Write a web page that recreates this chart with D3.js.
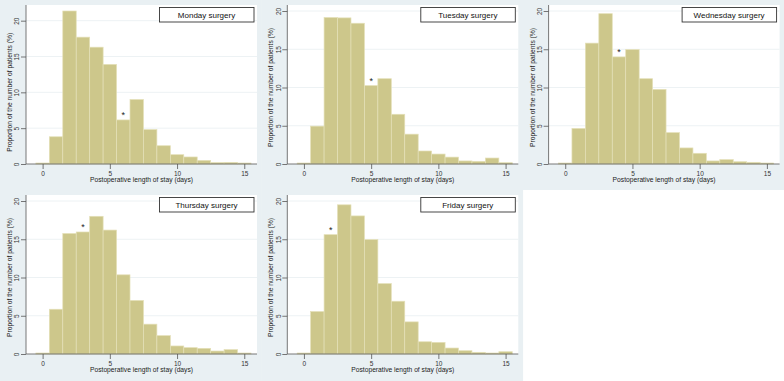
<!DOCTYPE html>
<html>
<head>
<meta charset="utf-8">
<script src="https://cdn.jsdelivr.net/npm/d3@7"></script>
<style>
  body { margin: 0; background: #fff; }
  svg { display: block; font-family: "Liberation Sans", Arial, sans-serif; }
</style>
</head>
<body>
<div id="chart"></div>
<script>
// length of stay bins (days)
const days = [0, 1, 2, 3, 4, 5, 6, 7, 8, 9, 10, 11, 12, 13, 14, 15]

// % of patients per bin
const monday    = [0, 3.8, 21.35, 17.7, 16.3, 13.9, 6.15, 9.0, 4.8, 2.55, 1.3, 0.98, 0.5, 0.2, 0.23, 0.14]
const tuesday   = [0, 4.95, 19.15, 19.1, 18.4, 10.25, 11.15, 6.5, 3.9, 1.7, 1.3, 0.9, 0.4, 0.35, 0.78, 0.17]
const wednesday = [0, 4.65, 15.8, 19.65, 14.0, 14.95, 11.15, 9.75, 4.1, 2.1, 1.4, 0.4, 0.57, 0.3, 0.22, 0.13]
const thursday  = [0, 5.85, 15.75, 15.95, 18.0, 16.2, 10.35, 7.0, 3.9, 2.4, 1.05, 0.83, 0.74, 0.39, 0.57, 0.13]
const friday    = [0, 5.55, 15.6, 19.5, 18.05, 14.95, 9.2, 6.9, 4.2, 1.6, 1.52, 0.78, 0.43, 0.22, 0.13, 0.3]

const titles = ["Monday surgery", "Tuesday surgery", "Wednesday surgery", "Thursday surgery", "Friday surgery"]
const series = [monday, tuesday, wednesday, thursday, friday]
const starDay = [6, 5, 4, 3, 2]   // bin flagged with *

const yTicks = [0, 5, 10, 15, 20]
const xTicks = [0, 5, 10, 15]

const W = 784, H = 381
const panelW = 261.3, panelH = 190

const svg = d3.select("#chart").append("svg")
	.attr("width", W)
	.attr("height", H)

svg.append("rect").attr("width", W).attr("height", H).attr("fill", "#fff")

// plot region inside each panel
const plot = { left: 26, right: 257, top: 5, bottom: 164 }

series.forEach((vals, i) => {
	const col = i % 3, row = Math.floor(i / 3)
	const g = svg.append("g")
		.attr("transform", `translate(${col * panelW},${row * panelH})`)

	g.append("rect")
		.attr("width", panelW + 0.5)
		.attr("height", row === 0 ? panelH : H - panelH)
		.attr("fill", "#e9f0f3")

	g.append("rect")
		.attr("x", plot.left)
		.attr("y", plot.top)
		.attr("width", plot.right - plot.left)
		.attr("height", plot.bottom - plot.top)
		.attr("fill", "#fff")

	const yMax = Math.max(20, d3.max(vals))
	const y = d3.scaleLinear().domain([0, yMax]).range([plot.bottom, 11])
	const x = d3.scaleLinear().domain([-0.5, 15.5]).range([35.9, 251])

	// grid
	g.append("g").selectAll("line")
		.data(yTicks.filter(d => d > 0))
		.join("line")
		.attr("x1", plot.left).attr("x2", plot.right)
		.attr("y1", d => y(d)).attr("y2", d => y(d))
		.attr("stroke", "#edf2f4")
		.attr("stroke-width", 1)

	// bars
	g.append("g").selectAll("rect")
		.data(days.map((d, j) => ({ day: d, v: vals[j] })))
		.join("rect")
		.attr("x", d => x(d.day - 0.5))
		.attr("width", d => x(d.day + 0.5) - x(d.day - 0.5))
		.attr("y", d => Math.min(y(d.v), plot.bottom - 1))
		.attr("height", d => Math.max(plot.bottom - y(d.v), 1))
		.attr("fill", "#cdc78b")
		.attr("stroke", "#e4e0b8")
		.attr("stroke-width", 0.7)

	// axes
	const yAxis = d3.axisLeft(y).tickValues(yTicks).tickSize(5).tickPadding(2)
	const ya = g.append("g").attr("transform", `translate(${plot.left},0)`).call(yAxis)
	ya.select(".domain").attr("d", `M0,${plot.top}V${plot.bottom}`)
	ya.selectAll("text")
		.attr("transform", "translate(-9,0) rotate(-90)")
		.attr("x", 0).attr("y", 0).attr("dy", "0.35em")
		.attr("text-anchor", "middle")

	const xAxis = d3.axisBottom(x).tickValues(xTicks).tickSize(5).tickPadding(2)
	const xa = g.append("g").attr("transform", `translate(0,${plot.bottom})`).call(xAxis)
	xa.select(".domain").attr("d", `M${plot.left},0H${plot.right}`)

	g.selectAll(".domain, .tick line").attr("stroke", "#555").attr("stroke-width", 0.8)
	g.selectAll(".tick text").attr("fill", "#333").attr("font-size", 6.5)
		.attr("font-family", "Liberation Sans, Arial, sans-serif")

	// axis titles
	g.append("text")
		.attr("x", (plot.left + plot.right) / 2)
		.attr("y", 182)
		.attr("text-anchor", "middle")
		.attr("font-size", 6.7)
		.attr("fill", "#222")
		.text("Postoperative length of stay (days)")

	g.append("text")
		.attr("transform", `translate(12,${(y(0) + y(20)) / 2}) rotate(-90)`)
		.attr("text-anchor", "middle")
		.attr("font-size", 6.7)
		.attr("fill", "#222")
		.text("Proportion of the number of patients (%)")

	// star
	const sd = starDay[i]
	g.append("text")
		.attr("x", x(sd))
		.attr("y", y(vals[sd]) - 2)
		.attr("dy", "0.7em")
		.attr("text-anchor", "middle")
		.attr("font-size", 9)
		.attr("fill", "#222")
		.attr("transform", `translate(0,-6)`)
		.text("*")

	// legend box
	g.append("rect")
		.attr("x", 159.5).attr("y", 7.5)
		.attr("width", 94.5).attr("height", 14.5)
		.attr("fill", "#fff")
		.attr("stroke", "#333")
		.attr("stroke-width", 0.9)
	g.append("text")
		.attr("x", 206.5).attr("y", 15)
		.attr("dy", "0.35em")
		.attr("text-anchor", "middle")
		.attr("font-size", 8)
		.attr("fill", "#111")
		.text(titles[i])
})
</script>
</body>
</html>
